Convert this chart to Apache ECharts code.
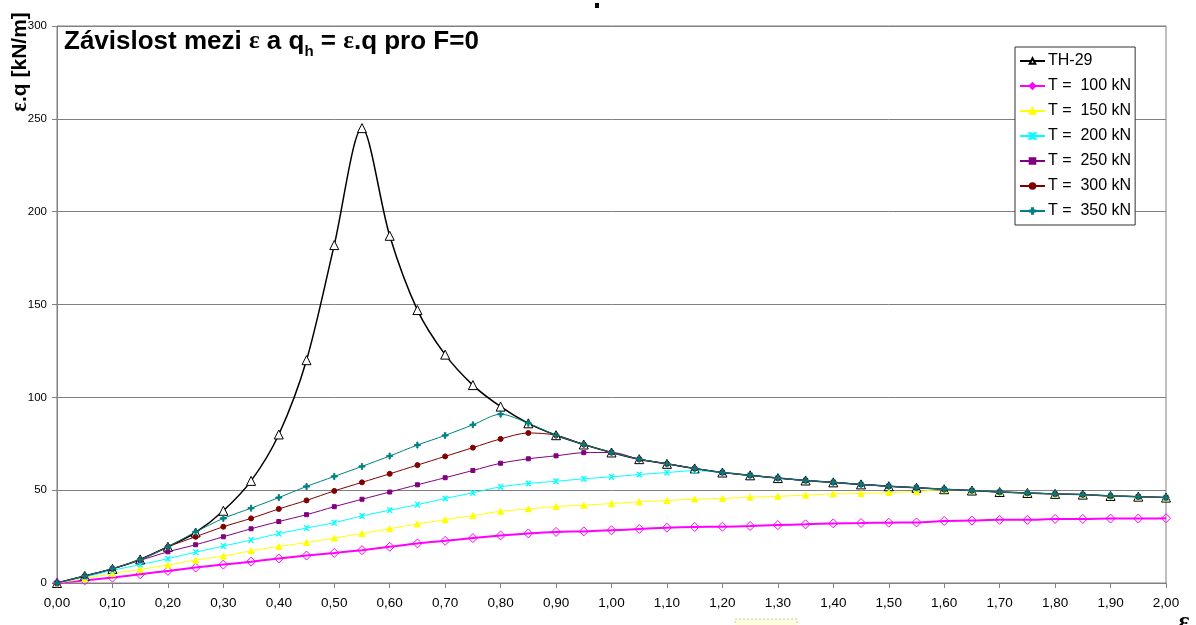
<!DOCTYPE html>
<html>
<head>
<meta charset="utf-8">
<script src="https://cdn.jsdelivr.net/npm/echarts@6/dist/echarts.min.js"></script>
<style>
  html, body { margin: 0; padding: 0; background: #fff; }
  #chart { width: 1196px; height: 625px; }
</style>
</head>
<body>
<div id="chart"></div>
<script>
// epsilon 0,00 .. 2,00 step 0,05
const eps = [0, 0.05, 0.1, 0.15, 0.2, 0.25, 0.3, 0.35, 0.4, 0.45, 0.5, 0.55, 0.6, 0.65, 0.7,
  0.75, 0.8, 0.85, 0.9, 0.95, 1, 1.05, 1.1, 1.15, 1.2, 1.25, 1.3, 1.35, 1.4, 1.45, 1.5,
  1.55, 1.6, 1.65, 1.7, 1.75, 1.8, 1.85, 1.9, 1.95, 2];

const th29 = [0, 3.8, 7.6, 12.7, 19.5, 27.2, 38.9, 55, 80, 120, 182, 245, 187, 147, 123,
  106.6, 95, 86, 79.6, 74.6, 70.3, 66.7, 64.2, 61.7, 59.5, 58, 56.5, 55.2, 54.2, 53.1, 52.1,
  51.3, 50.5, 49.8, 49, 48.5, 48, 47.6, 46.9, 46.5, 46];
const t100 = [0, 1.4, 2.9, 4.7, 6.5, 8.3, 9.9, 11.5, 13.2, 14.8, 16.2, 17.7, 19.5, 21.3, 22.7,
  24.2, 25.6, 26.7, 27.5, 27.8, 28.4, 29.1, 29.8, 30.2, 30.3, 30.7, 31.2, 31.6, 32.1, 32.3, 32.5,
  32.6, 33.4, 33.6, 34, 34, 34.5, 34.5, 34.7, 34.7, 34.9];
const t150 = [0, 2.3, 5.1, 7.3, 9.7, 12.3, 14.5, 17.3, 19.7, 21.8, 24.2, 26.7, 29.2, 31.8, 34.1,
  36.3, 38.6, 39.9, 41.2, 41.9, 42.8, 43.7, 44.4, 45.2, 45.5, 46.2, 46.7, 47.3, 48, 48.2, 48.7,
  49.3, 50.3, 49.8, 49, 48.5, 48, 47.6, 46.9, 46.5, 46];
const t200 = [0, 3.2, 6.8, 9.9, 13.1, 16.6, 19.9, 23.1, 26.6, 29.6, 32.5, 36.1, 39.2, 42.2, 45.5,
  48.6, 51.8, 53.6, 54.8, 56.1, 57.2, 58.4, 59.5, 60.5, 59.5, 58, 56.5, 55.2, 54.2, 53.1, 52.1,
  51.3, 50.5, 49.8, 49, 48.5, 48, 47.6, 46.9, 46.5, 46];
const t250 = [0, 3.7, 7.6, 12.2, 16.8, 20.6, 24.9, 29.2, 33.1, 36.8, 41.1, 45.1, 49, 52.9, 56.7,
  60.6, 64.5, 66.9, 68.5, 70.2, 70.3, 66.7, 64.2, 61.7, 59.5, 58, 56.5, 55.2, 54.2, 53.1, 52.1,
  51.3, 50.5, 49.8, 49, 48.5, 48, 47.6, 46.9, 46.5, 46];
const t300 = [0, 3.8, 7.7, 12.6, 19.5, 24.9, 30.3, 34.8, 39.9, 44.5, 49.6, 54.2, 58.8, 63.5, 68.2,
  72.9, 77.6, 80.8, 79.6, 74.6, 70.3, 66.7, 64.2, 61.7, 59.5, 58, 56.5, 55.2, 54.2, 53.1, 52.1,
  51.3, 50.5, 49.8, 49, 48.5, 48, 47.6, 46.9, 46.5, 46];
const t350 = [0, 3.8, 7.8, 12.6, 19.5, 27.5, 34.8, 40.3, 46, 52, 57.4, 62.8, 68.4, 74.3, 79.5,
  85.2, 90.9, 86, 79.6, 74.6, 70.3, 66.7, 64.2, 61.7, 59.5, 58, 56.5, 55.2, 54.2, 53.1, 52.1,
  51.3, 50.5, 49.8, 49, 48.5, 48, 47.6, 46.9, 46.5, 46];

const names = ['TH-29', 'T =  100 kN', 'T =  150 kN', 'T =  200 kN', 'T =  250 kN', 'T =  300 kN', 'T =  350 kN'];

function pairs(vals) {
  return eps.map((e, i) => [e, vals[i]]);
}

const plusPath = 'path://M4,0h2v4h4v2h-4v4h-2v-4h-4v-2h4z';
const starPath = 'path://M0,0L2,0L5,3L8,0L10,0L6,4L6,6L10,10L8,10L5,7L2,10L0,10L4,6L4,4Z';

const chart = echarts.init(document.getElementById('chart'), null, { renderer: 'canvas' });

function line(name, vals, color, width, symbol, size, fill) {
  return {
    name: name,
    type: 'line',
    smooth: 0.3,
    data: pairs(vals),
    symbol: symbol,
    symbolSize: size,
    lineStyle: { color: color, width: width },
    itemStyle: { color: fill, borderColor: color, borderWidth: 1 }
  };
}

const serif = '"Liberation Serif", "Times New Roman", serif';
const sans = '"Liberation Sans", Arial, sans-serif';

var option = {
  animation: false,
  backgroundColor: '#fff',
  title: {
    text: '{b|Závislost mezi }{e|ε}{b| a q}{s|h}{b| = }{e|ε}{b|.q pro F=0}',
    left: 64,
    top: 25,
    padding: 0,
    textStyle: {
      rich: {
        b: { fontFamily: sans, fontWeight: 'bold', fontSize: 26, color: '#000', lineHeight: 34 },
        e: { fontFamily: serif, fontSize: 25, color: '#000', lineHeight: 34 },
        s: { fontFamily: sans, fontWeight: 'bold', fontSize: 15, color: '#000', lineHeight: 16, verticalAlign: 'bottom' }
      }
    }
  },
  legend: {
    data: names,
    orient: 'vertical',
    left: 1015,
    top: 47,
    itemWidth: 25,
    itemHeight: 7,
    itemGap: 9,
    padding: [6, 4, 6, 4],
    borderColor: '#333',
    borderWidth: 1,
    borderRadius: 0,
    backgroundColor: '#fff',
    textStyle: { fontFamily: sans, fontSize: 16, color: '#000', padding: [0, 0, 0, -2] }
  },
  grid: {
    left: 57,
    right: 30,
    top: 26,
    bottom: 42,
    show: true,
    borderColor: '#808080',
    borderWidth: 1
  },
  xAxis: {
    type: 'value',
    min: 0,
    max: 2,
    interval: 0.1,
    axisLine: { onZero: false, lineStyle: { color: '#808080' } },
    axisTick: { show: true, length: 5, lineStyle: { color: '#808080' } },
    splitLine: { show: false },
    axisLabel: {
      color: '#000',
      fontFamily: sans,
      fontSize: 13.5,
      margin: 13,
      formatter: v => v.toFixed(2).replace('.', ',')
    }
  },
  yAxis: {
    type: 'value',
    min: 0,
    max: 300,
    interval: 50,
    axisLine: { show: true, lineStyle: { color: '#808080' } },
    axisTick: { show: true, length: 5, lineStyle: { color: '#808080' } },
    splitLine: { lineStyle: { color: '#808080', width: 1 } },
    axisLabel: { color: '#000', fontFamily: sans, fontSize: 11.5, margin: 10 }
  },
  graphic: [
    {
      type: 'text',
      x: 20,
      y: 62,
      rotation: Math.PI / 2,
      style: {
        text: '{e|ε}{b|.q [kN/m]}',
        align: 'center',
        verticalAlign: 'middle',
        rich: {
          b: { fontFamily: sans, fontWeight: 'bold', fontSize: 21, fill: '#000' },
          e: { fontFamily: serif, fontWeight: 'bold', fontSize: 23, fill: '#000' }
        }
      }
    },
    {
      type: 'text',
      x: 1184,
      y: 609,
      style: {
        text: 'ε',
        align: 'center',
        verticalAlign: 'top',
        font: 'bold 26px ' + serif,
        fill: '#000'
      }
    },
    {
      type: 'rect',
      shape: { x: 595, y: 3, width: 4, height: 5 },
      style: { fill: '#000' }
    },
    {
      type: 'rect',
      shape: { x: 735, y: 619, width: 62, height: 8 },
      style: { fill: '#ffffe0', stroke: '#c8c8a0', lineWidth: 1, lineDash: [2, 2] }
    }
  ],
  series: [
    line(names[0], th29, '#000000', 1.5, 'triangle', 9, '#ffffff'),
    line(names[1], t100, '#ff00ff', 2, 'diamond', 9, 'rgba(255,255,255,0)'),
    line(names[2], t150, '#ffff00', 1, 'triangle', 6, '#ffff00'),
    line(names[3], t200, '#00ffff', 1, starPath, 5, '#00ffff'),
    line(names[4], t250, '#800080', 1, 'rect', 4, '#800080'),
    line(names[5], t300, '#800000', 1, 'circle', 5, '#800000'),
    line(names[6], t350, '#008080', 1, plusPath, 6, '#008080')
  ]
};

chart.setOption(option);
</script>
</body>
</html>
